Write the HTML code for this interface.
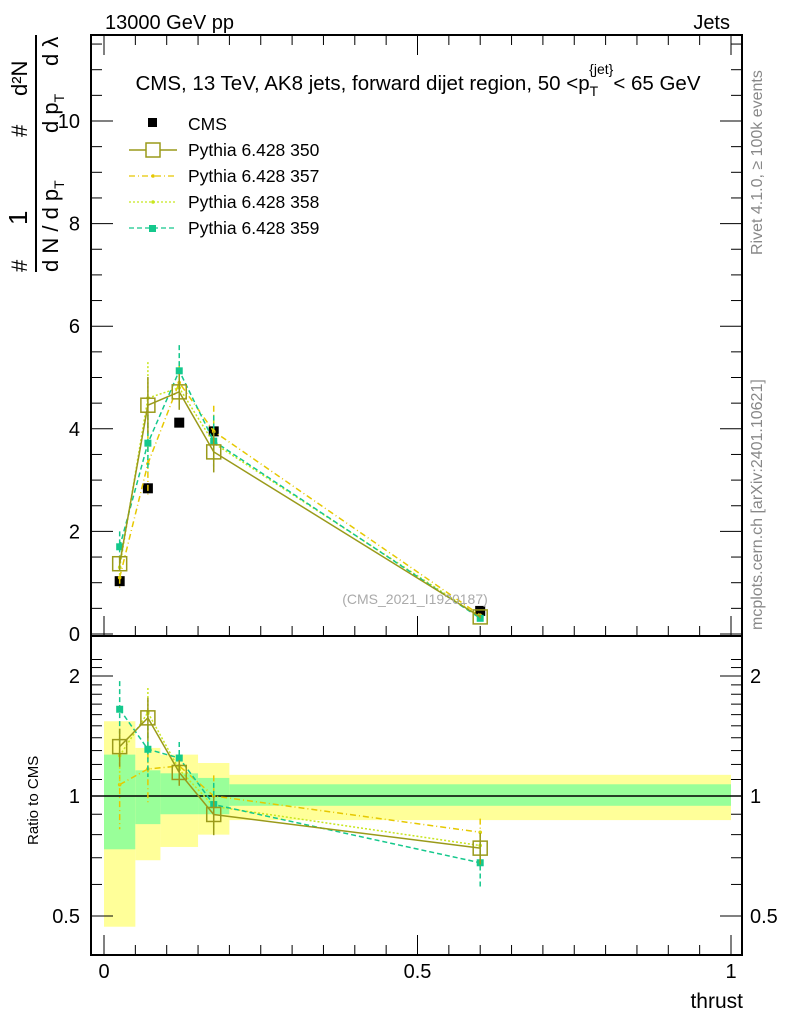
<!DOCTYPE html>
<html><head><meta charset="utf-8"><style>
body{margin:0;background:#fff}
svg text{font-family:"Liberation Sans",sans-serif}
</style></head><body>
<svg id="c" width="786" height="1024" xmlns="http://www.w3.org/2000/svg">
<g id="bands"></g><g id="axes"></g><g id="marks"></g>
<text x="105" y="29" font-size="20">13000 GeV pp</text>
<text x="730" y="29" font-size="20" text-anchor="end">Jets</text>
<text x="418" y="90" font-size="20.5" text-anchor="middle">CMS, 13 TeV, AK8 jets, forward dijet region, 50 &lt;p<tspan font-size="14" dy="6">T</tspan><tspan font-size="14" dy="-22" dx="-9">{jet}</tspan><tspan dy="16">&lt; 65 GeV</tspan></text>
<text x="415" y="604" font-size="14" fill="#aaa" text-anchor="middle">(CMS_2021_I1920187)</text>
<text transform="translate(762,255) rotate(-90)" font-size="16" fill="#888">Rivet 4.1.0, ≥ 100k events</text>
<text transform="translate(762,630) rotate(-90)" font-size="16" fill="#888">mcplots.cern.ch [arXiv:2401.10621]</text>
<g font-size="22">
<text transform="translate(27,272) rotate(-90)">#</text>
<text transform="translate(27,225) rotate(-90)" font-size="26">1</text>
<line x1="36" y1="35" x2="36" y2="272" stroke="#000" stroke-width="2"/>
<text transform="translate(58,272) rotate(-90)">d N / d p<tspan font-size="14" dy="6">T</tspan></text>
<text transform="translate(27,137) rotate(-90)">#</text>
<text transform="translate(58,133) rotate(-90)">d p<tspan font-size="14" dy="6">T</tspan></text>
<text transform="translate(58,66) rotate(-90)">d λ</text>
<text transform="translate(27,96) rotate(-90)">d²N</text>
</g>
<text transform="translate(38,845) rotate(-90)" font-size="15">Ratio to CMS</text>
<text x="743" y="1008" font-size="21" text-anchor="end">thrust</text>
<g font-size="17.5">
<rect x="148" y="118" width="9" height="9" fill="#000"/><text x="188" y="130">CMS</text>
<line x1="129" y1="150" x2="177" y2="150" stroke="#9a9a1a" stroke-width="1.5"/><rect x="146" y="143" width="14" height="14" fill="#fff" stroke="#9a9a1a" stroke-width="1.5"/><text x="188" y="156">Pythia 6.428 350</text>
<line x1="129" y1="176" x2="177" y2="176" stroke="#e6c800" stroke-width="1.3" stroke-dasharray="6,3,1,3"/><circle cx="153" cy="176" r="1.8" fill="#e6c800"/><text x="188" y="182">Pythia 6.428 357</text>
<line x1="129" y1="202" x2="177" y2="202" stroke="#c8e61e" stroke-width="1.3" stroke-dasharray="2,2"/><circle cx="153" cy="202" r="1.8" fill="#c8e61e"/><text x="188" y="208">Pythia 6.428 358</text>
<line x1="129" y1="228" x2="177" y2="228" stroke="#14c88c" stroke-width="1.3" stroke-dasharray="5,3"/><rect x="149" y="225" width="7" height="7" fill="#14c88c"/><text x="188" y="234">Pythia 6.428 359</text>
</g>
</svg>
<script>
const binEdges=[0,0.05,0.09,0.15,0.2,1];
const xs=[0.025,0.07,0.12,0.175,0.6];
const cms=[1.03,2.84,4.12,3.95,0.45];
const cmsErr=[0.1,0.1,0.08,0.1,0.05];
const statLo=[0.735,0.85,0.9,0.9,0.945];
const statHi=[1.27,1.16,1.14,1.11,1.07];
const totLo=[0.47,0.69,0.745,0.8,0.87];
const totHi=[1.54,1.32,1.27,1.21,1.13];
const s350=[1.37,4.46,4.72,3.55,0.333];
const e350=[0.15,0.55,0.35,0.4,0.03];
const s357=[1.1,3.32,4.9,3.95,0.365];
const e357=[0.25,0.6,0.4,0.5,0.03];
const s358=[1.3,4.6,4.8,3.72,0.338];
const e358=[0.2,0.7,0.4,0.45,0.03];
const s359=[1.7,3.72,5.13,3.76,0.306];
const e359=[0.3,0.55,0.5,0.5,0.04];
const yTicks=[0,2,4,6,8,10];
const rTicks=[0.5,1,2];
const xTicks=[0,0.5,1];
const NS='http://www.w3.org/2000/svg';
const L=91,R=742,T=35,MB=636,RB=955;
const X=v=>104+v*627;
const Y=v=>634-v*51.3;
const RY=v=>796-Math.log2(v)*120;
function mk(p,tag,at){const e=document.createElementNS(NS,tag);for(const k in at)e.setAttribute(k,at[k]);document.getElementById(p).appendChild(e);return e;}
for(let i=0;i<5;i++){
 let e=mk('bands','rect',{x:X(binEdges[i]),y:RY(totHi[i]),width:X(binEdges[i+1])-X(binEdges[i]),height:RY(totLo[i])-RY(totHi[i]),fill:'#ffff99'});
 
 
 e=mk('bands','rect',{x:X(binEdges[i]),y:RY(statHi[i]),width:X(binEdges[i+1])-X(binEdges[i]),height:RY(statLo[i])-RY(statHi[i]),fill:'#99ff99'});
 
 
}
for(const [t,b] of [[T,MB],[MB,RB]]){let e=mk('axes','rect',{x:L,y:t,width:R-L,height:b-t,fill:'none',stroke:'#000','stroke-width':2});

}
mk('axes','line',{x1:L,x2:R,y1:RY(1),y2:RY(1),stroke:'#000','stroke-width':1.5});
for(let v=0;v<=11.6;v+=0.5){const y=Y(v);const big=Math.abs(v%2)<1e-9;mk('axes','line',{x1:L,x2:L+(big?22:11),y1:y,y2:y,stroke:'#000'});mk('axes','line',{x1:R,x2:R-(big?22:11),y1:y,y2:y,stroke:'#000'});}
yTicks.forEach(v=>{const t=mk('axes','text',{x:80,y:Y(v)+7,'font-size':20,'text-anchor':'end'});t.textContent=v;

});
for(let v=0.4;v<=2.3;v+=0.1){const y=RY(v);if(y<MB||y>RB)continue;const big=[0.5,1,2].some(a=>Math.abs(a-v)<1e-6);mk('axes','line',{x1:L,x2:L+(big?22:11),y1:y,y2:y,stroke:'#000'});mk('axes','line',{x1:R,x2:R-(big?22:11),y1:y,y2:y,stroke:'#000'});}
rTicks.forEach(v=>{for(const [x,a] of [[80,'end'],[750,'start']]){const t=mk('axes','text',{x:x,y:RY(v)+7,'font-size':20,'text-anchor':a});t.textContent=v;

}});
for(let v=0;v<=1.001;v+=0.05){const x=X(v);const big=Math.abs(v*2-Math.round(v*2))<1e-6;for(const [y0,s] of [[MB,-1],[T,1],[RB,-1]]){mk('axes','line',{x1:x,x2:x,y1:y0,y2:y0+s*(big?20:10),stroke:'#000'});}}
xTicks.forEach(v=>{const t=mk('axes','text',{x:X(v),y:978,'font-size':20,'text-anchor':'middle'});t.textContent=v;

});
const series=[
 {name:'pythia-357',v:s357,e:e357,c:'#e6c800',d:'6,3,1,3',m:'dot'},
 {name:'pythia-358',v:s358,e:e358,c:'#c8e61e',d:'2,2',m:'dot'},
 {name:'pythia-359',v:s359,e:e359,c:'#14c88c',d:'5,3',m:'sq'},
 {name:'pythia-350',v:s350,e:e350,c:'#9a9a1a',d:'',m:'open'}];
function draw(s,yf,ratio){
 const vals=s.v.map((v,i)=>ratio?v/cms[i]:v);
 const errs=s.e.map((e,i)=>ratio?e/cms[i]:e);
 let p=mk('marks','polyline',{points:xs.map((x,i)=>X(x)+','+yf(vals[i])).join(' '),fill:'none',stroke:s.c,'stroke-width':1.5,'stroke-dasharray':s.d});
 
 
 xs.forEach((x,i)=>{
  let e=mk('marks','line',{x1:X(x),x2:X(x),y1:yf(vals[i]+errs[i]),y2:yf(Math.max(vals[i]-errs[i],0.01)),stroke:s.c,'stroke-width':1.5,'stroke-dasharray':s.d});
  
  
  let m;
  if(s.m==='open')m=mk('marks','rect',{x:X(x)-7,y:yf(vals[i])-7,width:14,height:14,fill:'none',stroke:s.c,'stroke-width':1.5});
  else if(s.m==='sq')m=mk('marks','rect',{x:X(x)-3.5,y:yf(vals[i])-3.5,width:7,height:7,fill:s.c});
  else m=mk('marks','circle',{cx:X(x),cy:yf(vals[i]),r:1.8,fill:s.c});
  
  
 });
}
xs.forEach((x,i)=>{
 let e=mk('marks','line',{x1:X(x),x2:X(x),y1:Y(cms[i]+cmsErr[i]),y2:Y(cms[i]-cmsErr[i]),stroke:'#000'});
 
 
 const m=mk('marks','rect',{x:X(x)-5,y:Y(cms[i])-5,width:10,height:10,fill:'#000'});
 
 
});
series.forEach(s=>{draw(s,Y,false);draw(s,RY,true);});
</script>
</body></html>
